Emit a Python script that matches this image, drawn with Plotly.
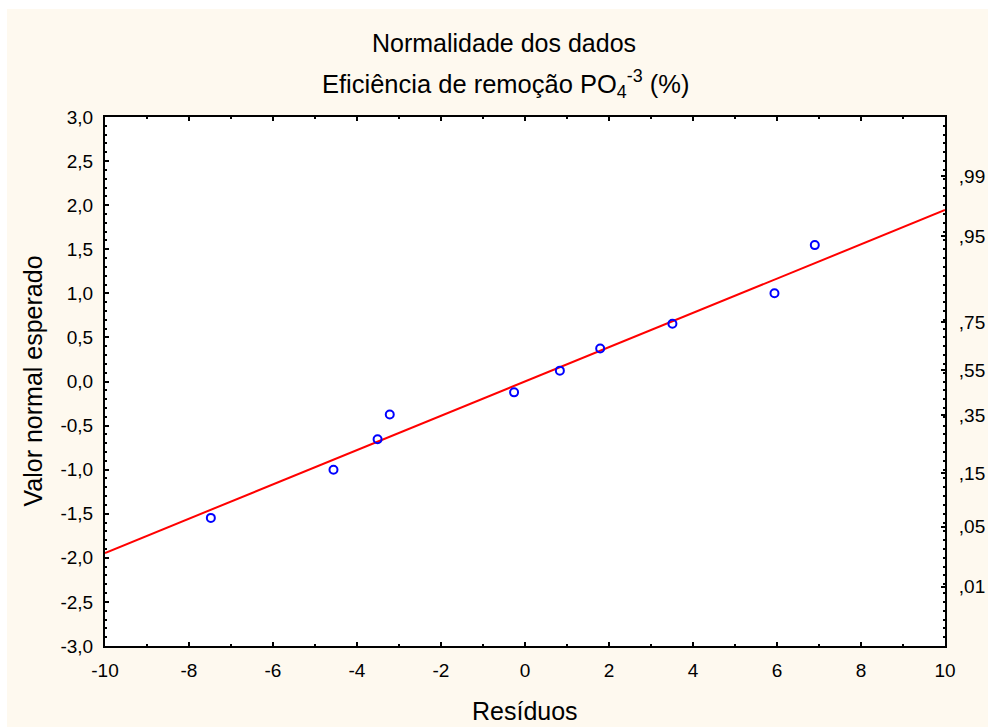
from statistics import NormalDist

import plotly.graph_objects as go

# Residuals and their expected normal values
residuals = [-7.48, -4.56, -3.51, -3.22, -0.26, 0.83, 1.79, 3.51, 5.94, 6.90]
expected_normal = [-1.547, -1.000, -0.655, -0.375, -0.123, 0.123, 0.375, 0.655, 1.000, 1.547]

# Reference line end points
line_x = [-10, 10]
line_y = [-1.945, 1.945]

# Axis ticks
x_ticks = [-10, -8, -6, -4, -2, 0, 2, 4, 6, 8, 10]
x_tick_labels = ["-10", "-8", "-6", "-4", "-2", "0", "2", "4", "6", "8", "10"]
y_ticks = [-3.0, -2.5, -2.0, -1.5, -1.0, -0.5, 0.0, 0.5, 1.0, 1.5, 2.0, 2.5, 3.0]
y_tick_labels = ["-3,0", "-2,5", "-2,0", "-1,5", "-1,0", "-0,5", "0,0",
                 "0,5", "1,0", "1,5", "2,0", "2,5", "3,0"]
prob_levels = [0.01, 0.05, 0.15, 0.35, 0.55, 0.75, 0.95, 0.99]
prob_labels = [",01", ",05", ",15", ",35", ",55", ",75", ",95", ",99"]
prob_positions = [NormalDist().inv_cdf(p) for p in prob_levels]

FONT = "Arial, Liberation Sans, sans-serif"
CREAM = "#FEF9EF"
TICK_SIZE = 19

fig = go.Figure()
fig.add_trace(go.Scatter(
    x=line_x, y=line_y, mode="lines",
    line=dict(color="#FF0000", width=2),
    hoverinfo="skip", showlegend=False,
))
fig.add_trace(go.Scatter(
    x=residuals, y=expected_normal, mode="markers",
    marker=dict(symbol="circle-open", size=8, color="#0000FF",
                line=dict(color="#0000FF", width=2)),
    showlegend=False,
))
# carries the probability axis on the right
fig.add_trace(go.Scatter(x=[], y=[], yaxis="y2", showlegend=False,
                         hoverinfo="skip"))

W, H = 988, 727
L, R, T, B = 105, 43, 117, 81
PW, PH = W - L - R, H - T - B


def px(xp):
    return (xp - L) / PW


def py(yp):
    return (H - B - yp) / PH


tick_style = dict(ticks="inside", ticklen=4, tickwidth=2, tickcolor="#000000")
minor_style = dict(ticks="inside", ticklen=2, tickwidth=2, tickcolor="#000000")

fig.update_layout(
    width=W, height=H,
    autosize=False,
    margin=dict(l=L, r=R, t=T, b=B, pad=0, autoexpand=False),
    paper_bgcolor=CREAM,
    plot_bgcolor="#FFFFFF",
    font=dict(family=FONT, color="#000000", size=TICK_SIZE),
    showlegend=False,
    xaxis=dict(
        range=[-10, 10], tickmode="array", tickvals=x_ticks, ticktext=x_tick_labels,
        **tick_style,
        minor=dict(dtick=1, tick0=0, **minor_style),
        showline=True, linecolor="#000000", linewidth=2, mirror="ticks",
        showgrid=False, zeroline=False, ticklabelstandoff=6,
        automargin=False, tickfont=dict(size=TICK_SIZE),
    ),
    yaxis=dict(
        range=[-3, 3], tickmode="array", tickvals=y_ticks, ticktext=y_tick_labels,
        **tick_style,
        minor=dict(dtick=0.1, tick0=0, **minor_style),
        showline=True, linecolor="#000000", linewidth=2, mirror=True,
        showgrid=False, zeroline=False, ticklabelstandoff=6,
        automargin=False, tickfont=dict(size=TICK_SIZE),
    ),
    yaxis2=dict(
        overlaying="y", side="right", range=[-3, 3],
        tickmode="array", tickvals=prob_positions, ticktext=prob_labels,
        **tick_style,
        minor=dict(tickmode="linear", dtick=0.1, tick0=0, **minor_style),
        showline=True, linecolor="#000000", linewidth=2,
        showgrid=False, zeroline=False, ticklabelstandoff=8,
        automargin=False, tickfont=dict(size=TICK_SIZE),
    ),
    shapes=[
        # white strips along the top and left edges
        dict(type="rect", xref="paper", yref="paper",
             x0=px(0), x1=px(W), y0=py(9), y1=py(0),
             fillcolor="#FFFFFF", line=dict(width=0), layer="below"),
        dict(type="rect", xref="paper", yref="paper",
             x0=px(0), x1=px(7), y0=py(H), y1=py(0),
             fillcolor="#FFFFFF", line=dict(width=0), layer="below"),
    ],
    annotations=[
        dict(text="Normalidade dos dados", xref="paper", yref="paper",
             x=px(504), y=py(43), xanchor="center", yanchor="middle",
             showarrow=False, font=dict(size=25)),
        dict(text="Eficiência de remoção PO<sub>4</sub><sup>-3</sup> (%)",
             xref="paper", yref="paper",
             x=px(505), y=py(84), xanchor="center", yanchor="middle",
             showarrow=False, font=dict(size=25.5)),
        dict(text="Resíduos", xref="paper", yref="paper",
             x=0.5, y=py(711), xanchor="center", yanchor="middle",
             showarrow=False, font=dict(size=25)),
        dict(text="Valor normal esperado", xref="paper", yref="paper",
             x=px(32), y=0.5, xanchor="center", yanchor="middle",
             textangle=-90, showarrow=False, font=dict(size=25)),
    ],
)

# keep the page at exactly the figure size, without scrollbars
fig.write_html(
    "out.html",
    post_script="document.documentElement.style.overflow='hidden';"
                "document.body.style.margin='0';",
)
